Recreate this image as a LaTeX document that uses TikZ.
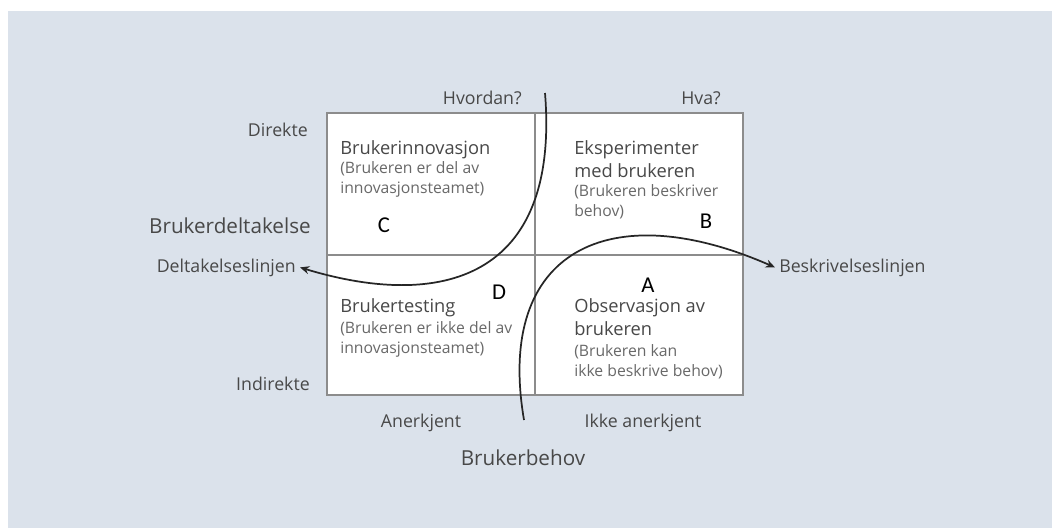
\documentclass[tikz,border=0pt]{standalone}
\usepackage{fontspec}
\setmainfont{Open Sans}
\newfontfamily\letterfont{Carlito}
\usetikzlibrary{arrows.meta}
\definecolor{bgblue}{RGB}{219,226,235}
\definecolor{gridgray}{RGB}{140,140,140}
\definecolor{labelgray}{RGB}{72,72,72}
\definecolor{notegray}{RGB}{105,105,105}
\tikzset{
  axislabel/.style={font=\fontsize{13.3}{15}\selectfont, text=labelgray, inner sep=0pt},
  biglabel/.style={font=\fontsize{15.5}{18}\selectfont, text=labelgray, inner sep=0pt},
  quadtitle/.style={font=\fontsize{13.7}{17.25}\selectfont, text=labelgray, inner sep=0pt,
    anchor=base west, align=left},
  quadnote/.style={font=\fontsize{11.8}{15}\selectfont, text=notegray, inner sep=0pt,
    anchor=base west, align=left},
  quadletter/.style={font=\letterfont\fontsize{17}{20}\selectfont, text=black, inner sep=0pt},
  flowline/.style={line width=1.3pt, draw=black!85, -{Stealth[length=7pt,width=6pt]}}
}

\begin{document}
\begin{tikzpicture}[x=0.75pt, y=-0.75pt]
\useasboundingbox (0,0) rectangle (1052,528);
\fill[white] (0,0) rectangle (1052,528);
\fill[bgblue] (8,11) rectangle (1052,528);

% quadrant grid
\draw[fill=white, draw=gridgray, line width=1.2pt] (327,113) rectangle (743,395);
\draw[draw=gridgray, line width=1.2pt] (535,113) -- (535,395);
\draw[draw=gridgray, line width=1.2pt] (327,255) -- (743,255);

% labels round the grid
\node[axislabel, anchor=base east] (hvordan) at (522,104) {Hvordan?};
\node[axislabel, anchor=base east] (hva) at (721,104) {Hva?};
\node[axislabel, anchor=base east] (direkte) at (308,136) {Direkte};
\node[biglabel, anchor=base east] (deltakelse) at (311,233) {Brukerdeltakelse};
\node[axislabel, anchor=base east, inner sep=3pt] (deltlinje) at (300,272) {Deltakelseslinjen};
\node[axislabel, anchor=base east] (indirekte) at (310,390) {Indirekte};
\node[axislabel, anchor=base west, inner sep=3pt] (beskriv) at (775,272) {Beskrivelseslinjen};
\node[axislabel, anchor=base] (anerkjent) at (421,427) {Anerkjent};
\node[axislabel, anchor=base] (ikkeanerkjent) at (643,427) {Ikke anerkjent};
\node[biglabel, anchor=base] (behov) at (523,465) {Brukerbehov};

% quadrant texts (base = last line)
\node[quadtitle] (innov) at (340,154) {Brukerinnovasjon};
\node[quadnote] (innovnote) at (340,193) {(Brukeren er del av\\innovasjonsteamet)};
\node[quadtitle] (eksp) at (574,177) {Eksperimenter\\med brukeren};
\node[quadnote] (expnote) at (574,216) {(Brukeren beskriver\\behov)};
\node[quadtitle] (testing) at (340,312) {Brukertesting};
\node[quadnote] (testnote) at (340,353) {(Brukeren er ikke del av\\innovasjonsteamet)};
\node[quadtitle] (observ) at (574,335) {Observasjon av\\brukeren};
\node[quadnote] (obsnote) at (574,376) {(Brukeren kan\\ikke beskrive behov)};

\node[quadletter] (lc) at (384,225) {C};
\node[quadletter] (lb) at (706,221) {B};
\node[quadletter] (ld) at (499,292) {D};
\node[quadletter] (la) at (648,285) {A};

% the two lines
\coordinate (hvtop) at (545,93);
\coordinate (behovbot) at (524,420);
\draw[flowline] (hvtop) .. controls (560,280) and (440,310) .. (deltlinje.east);
\draw[flowline] (behovbot) .. controls (495,250) and (610,195) .. (beskriv.west);
\end{tikzpicture}
\end{document}
